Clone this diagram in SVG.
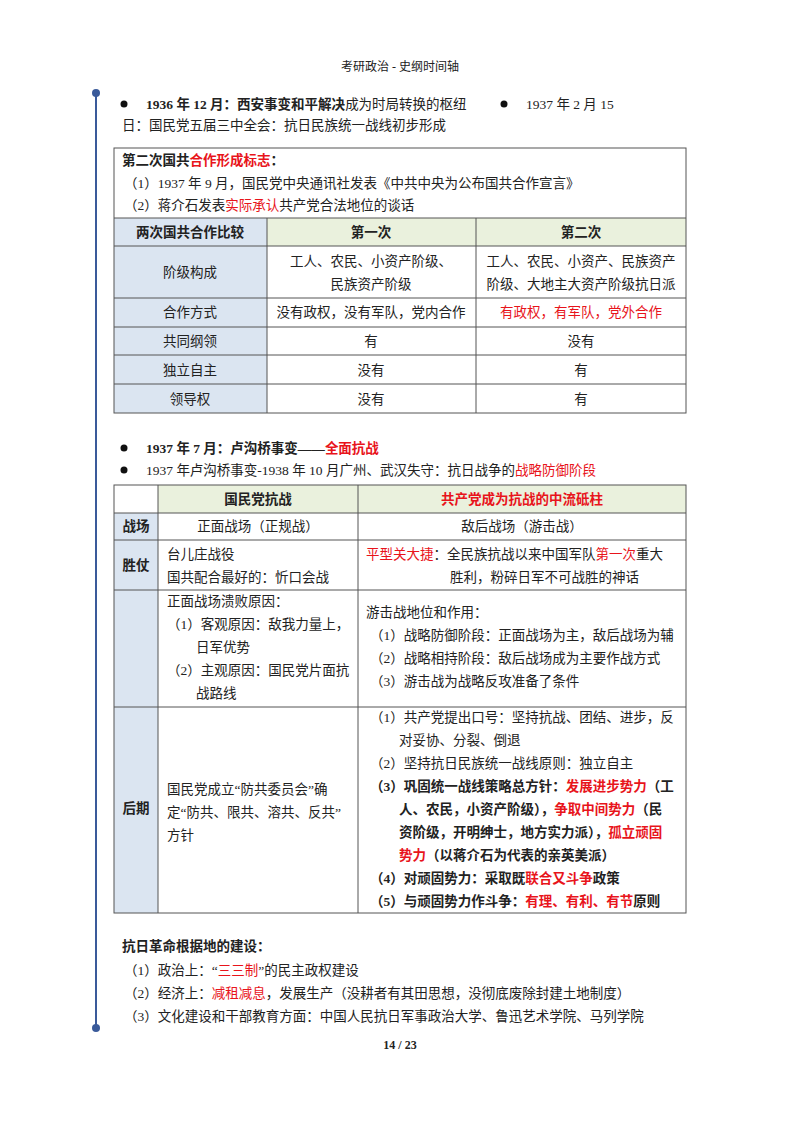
<svg xmlns="http://www.w3.org/2000/svg" width="800" height="1132" viewBox="0 0 800 1132">
<style>
text{font-family:"Liberation Serif","Noto Sans CJK SC",serif;font-size:13.5px;fill:#222}
.b{font-weight:bold}
.r{fill:#e8141b}
.m{text-anchor:middle}
.g{stroke:#555;stroke-width:1;fill:none}
.hl{fill:#dbe5f1}
.hg{fill:#eaf1dd}
</style>
<rect width="800" height="1132" fill="#fff"/>
<text x="400" y="71" class="m" style="font-size:12px">考研政治 - 史纲时间轴</text>
<g id="timeline">
<line x1="96" y1="93" x2="96" y2="1028" stroke="#3a5a9a" stroke-width="2"/>
<circle cx="96" cy="93" r="4" fill="#3a5a9a"/>
<circle cx="96" cy="1028" r="4" fill="#3a5a9a"/>
</g>
<g id="intro">
<circle cx="124" cy="104" r="3.5" fill="#111"/>
<text x="146" y="109"><tspan class="b">1936 年 12 月：西安事变和平解决</tspan>成为时局转换的枢纽</text>
<circle cx="504" cy="104" r="3.5" fill="#111"/>
<text x="526" y="109">1937 年 2 月 15</text>
<text x="122" y="130">日：国民党五届三中全会：抗日民族统一战线初步形成</text>
</g>
<g id="table1">
<rect x="114" y="218" width="153" height="195" class="hl"/>
<rect x="267" y="218" width="419" height="28" class="hg"/>
<rect x="114" y="148" width="572" height="265" class="g"/>
<path class="g" d="M114 218H686M114 246H686M114 298H686M114 327H686M114 355H686M114 384H686M267 218V413M476 218V413"/>
<text x="122" y="165" class="b">第二次国共<tspan class="r">合作形成标志</tspan>：</text>
<text x="124" y="188">（1）1937 年 9 月，国民党中央通讯社发表《中共中央为公布国共合作宣言》</text>
<text x="124" y="210">（2）蒋介石发表<tspan class="r">实际承认</tspan>共产党合法地位的谈话</text>
<text x="190" y="237" class="m b">两次国共合作比较</text>
<text x="371" y="237" class="m b">第一次</text>
<text x="581" y="237" class="m b">第二次</text>
<text x="190" y="277" class="m">阶级构成</text>
<text x="371" y="266" class="m">工人、农民、小资产阶级、</text>
<text x="371" y="289" class="m">民族资产阶级</text>
<text x="581" y="266" class="m">工人、农民、小资产、民族资产</text>
<text x="581" y="289" class="m">阶级、大地主大资产阶级抗日派</text>
<text x="190" y="317" class="m">合作方式</text>
<text x="371" y="317" class="m">没有政权，没有军队，党内合作</text>
<text x="581" y="317" class="m r">有政权，有军队，党外合作</text>
<text x="190" y="346" class="m">共同纲领</text>
<text x="371" y="346" class="m">有</text>
<text x="581" y="346" class="m">没有</text>
<text x="190" y="375" class="m">独立自主</text>
<text x="371" y="375" class="m">没有</text>
<text x="581" y="375" class="m">有</text>
<text x="190" y="404" class="m">领导权</text>
<text x="371" y="404" class="m">没有</text>
<text x="581" y="404" class="m">有</text>
</g>
<g id="mid">
<circle cx="124" cy="448" r="3.5" fill="#111"/>
<text x="146" y="453" class="b">1937 年 7 月：卢沟桥事变——<tspan class="r">全面抗战</tspan></text>
<circle cx="124" cy="470" r="3.5" fill="#111"/>
<text x="146" y="475">1937 年卢沟桥事变-1938 年 10 月广州、武汉失守：抗日战争的<tspan class="r">战略防御阶段</tspan></text>
</g>
<g id="table2">
<rect x="114" y="513" width="44" height="400" class="hl"/>
<rect x="158" y="485" width="528" height="28" class="hg"/>
<rect x="114" y="485" width="572" height="428" class="g"/>
<path class="g" d="M114 513H686M114 540H686M114 590H686M114 707H686M158 485V913M358 485V913"/>
<text x="258" y="504" class="m b">国民党抗战</text>
<text x="522" y="504" class="m b r">共产党成为抗战的中流砥柱</text>
<text x="136" y="531" class="m b">战场</text>
<text x="258" y="531" class="m">正面战场（正规战）</text>
<text x="522" y="531" class="m">敌后战场（游击战）</text>
<text x="136" y="570" class="m b">胜仗</text>
<text x="167" y="559">台儿庄战役</text>
<text x="167" y="582">国共配合最好的：忻口会战</text>
<text x="366" y="559"><tspan class="r">平型关大捷</tspan>：全民族抗战以来中国军队<tspan class="r">第一次</tspan>重大</text>
<text x="450" y="582">胜利，粉碎日军不可战胜的神话</text>
<text x="167" y="606">正面战场溃败原因：</text>
<text x="167" y="629">（1）客观原因：敌我力量上，</text>
<text x="196" y="652">日军优势</text>
<text x="167" y="675">（2）主观原因：国民党片面抗</text>
<text x="196" y="698">战路线</text>
<text x="366" y="617">游击战地位和作用：</text>
<text x="370" y="640">（1）战略防御阶段：正面战场为主，敌后战场为辅</text>
<text x="370" y="663">（2）战略相持阶段：敌后战场成为主要作战方式</text>
<text x="370" y="686">（3）游击战为战略反攻准备了条件</text>
<text x="136" y="813" class="m b">后期</text>
<text x="167" y="794">国民党成立“防共委员会”确</text>
<text x="167" y="817">定“防共、限共、溶共、反共”</text>
<text x="167" y="840">方针</text>
<text x="370" y="722">（1）共产党提出口号：坚持抗战、团结、进步，反</text>
<text x="399" y="745">对妥协、分裂、倒退</text>
<text x="370" y="768">（2）坚持抗日民族统一战线原则：独立自主</text>
<text x="370" y="791" class="b">（3）巩固统一战线策略总方针：<tspan class="r">发展进步势力</tspan>（工</text>
<text x="399" y="814" class="b">人、农民，小资产阶级），<tspan class="r">争取中间势力</tspan>（民</text>
<text x="399" y="837" class="b">资阶级，开明绅士，地方实力派），<tspan class="r">孤立顽固</tspan></text>
<text x="399" y="860" class="b"><tspan class="r">势力</tspan>（以蒋介石为代表的亲英美派）</text>
<text x="370" y="883" class="b">（4）对顽固势力：采取既<tspan class="r">联合又斗争</tspan>政策</text>
<text x="370" y="906" class="b">（5）与顽固势力作斗争：<tspan class="r">有理、有利、有节</tspan>原则</text>
</g>
<g id="bases">
<text x="122" y="951" class="b">抗日革命根据地的建设：</text>
<text x="124" y="975">（1）政治上：“<tspan class="r">三三制</tspan>”的民主政权建设</text>
<text x="124" y="998">（2）经济上：<tspan class="r">减租减息</tspan>，发展生产（没耕者有其田思想，没彻底废除封建土地制度）</text>
<text x="124" y="1021">（3）文化建设和干部教育方面：中国人民抗日军事政治大学、鲁迅艺术学院、马列学院</text>
</g>
<text x="400" y="1049" class="m b" style="font-size:12px">14 / 23</text>
</svg>
